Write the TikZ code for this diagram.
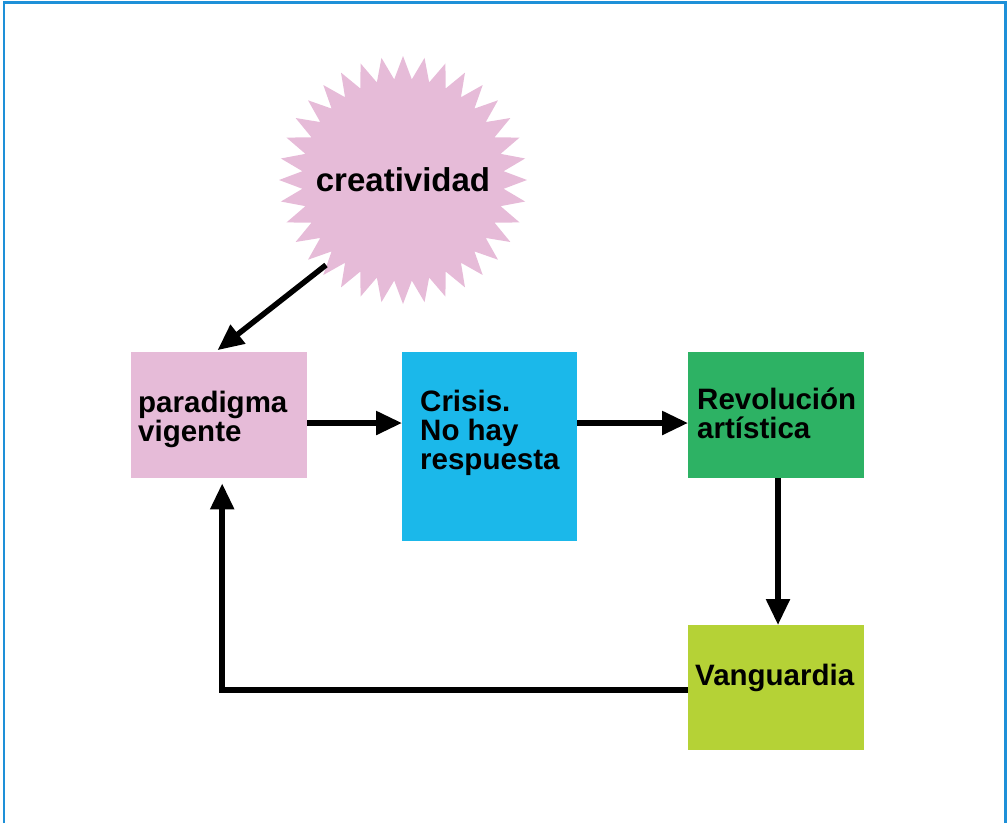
\documentclass[tikz,border=0pt]{standalone}
\usepackage{fontspec}
\setmainfont{Liberation Sans}
\usetikzlibrary{arrows.meta}
\definecolor{framec}{RGB}{30,144,216}
\definecolor{pinkc}{RGB}{230,187,216}
\definecolor{cyanc}{RGB}{27,184,234}
\definecolor{greenc}{RGB}{45,178,100}
\definecolor{limec}{RGB}{181,210,54}
\tikzset{
  box/.style={draw=none, inner sep=0pt, anchor=north west},
  lbl/.style={anchor=base west, inner sep=0pt, font=\bfseries\fontsize{29.5}{29}\selectfont},
  conn/.style={line width=5.5pt, -{Triangle[length=26pt,width=23pt]}},
}
\begin{document}
\begin{tikzpicture}[x=1pt,y=-1pt]
\useasboundingbox (0,0) rectangle (1008,823);
\draw[framec, line width=2.5pt] (4,823) -- (4,2.5) -- (1005.5,2.5) -- (1005.5,823);
% starburst
\fill[pinkc] ([shift={(403,180)}]0:124)
  \foreach \i in {1,...,71}{ -- ([shift={(403,180)}]{\i*5}:{ifthenelse(mod(\i,2)==0,124,101)}) } -- cycle;
\node[lbl, anchor=base, font=\bfseries\fontsize{33}{33}\selectfont] (crea) at (403,191) {creatividad};
\coordinate (burst) at (326,265);
% boxes
\node[box, fill=pinkc, minimum width=176pt, minimum height=126pt] (para) at (131,352) {};
\node[box, fill=cyanc, minimum width=175pt, minimum height=189pt] (crisis) at (402,352) {};
\node[box, fill=greenc, minimum width=176pt, minimum height=126pt] (revo) at (688,352) {};
\node[box, fill=limec, minimum width=176pt, minimum height=125pt] (vang) at (688,625) {};
% labels
\node[lbl] (paraA) at (138,412) {paradigma};
\node[lbl] (paraB) at (138,441) {vigente};
\node[lbl] (crisA) at (420,411) {Crisis.};
\node[lbl] (crisB) at (420,440) {No hay};
\node[lbl] (crisC) at (420,469) {respuesta};
\node[lbl] (revA) at (697,409) {Revolución};
\node[lbl] (revB) at (697,438) {artística};
\node[lbl] (vanA) at (695,685) {Vanguardia};
% connectors
\draw[conn, shorten >=3pt] (burst) -- ([xshift=-4pt]para.north);
\draw[conn] (para.east |- 0,423) -- (crisis.west |- 0,423);
\draw[conn] (crisis.east |- 0,423) -- (revo.west |- 0,423);
\draw[conn] (revo.south -| 778,0) -- (vang.north -| 778,0);
\draw[conn] (vang.west |- 0,690) -| ([xshift=3pt, yshift=-5pt]para.south);
\end{tikzpicture}
\end{document}
